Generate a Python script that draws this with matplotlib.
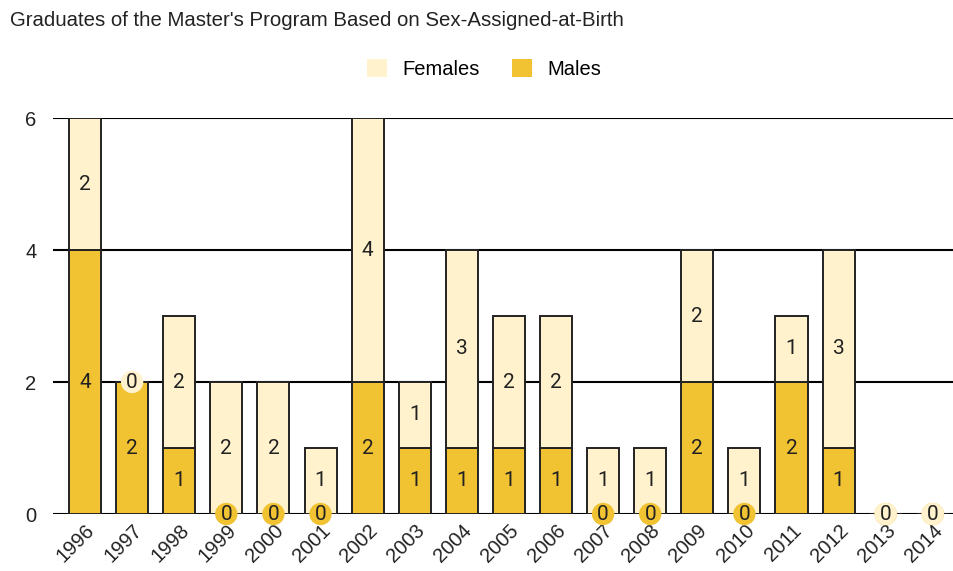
import numpy as np
import matplotlib.pyplot as plt
from matplotlib.patches import Patch

years = ['1996', '1997', '1998', '1999', '2000', '2001', '2002', '2003', '2004', '2005',
         '2006', '2007', '2008', '2009', '2010', '2011', '2012', '2013', '2014']
males = [4, 2, 1, 0, 0, 0, 2, 1, 1, 1, 1, 0, 0, 2, 0, 2, 1, 0, 0]
females = [2, 0, 2, 2, 2, 1, 4, 1, 3, 2, 2, 1, 1, 2, 1, 1, 3, 0, 0]

c_male = '#F1C232'
c_female = '#FFF2CC'

fig = plt.figure(figsize=(9.54, 5.71), dpi=100)
ax = fig.add_axes([53/954, 57/571, 1 - 53/954, 396/571])

x = np.arange(len(years))
w = 0.68
ax.bar(x, males, w, color=c_male, edgecolor='#222222', linewidth=1.4, zorder=2)
ax.bar(x, females, w, bottom=males, color=c_female, edgecolor='#222222', linewidth=1.4, zorder=2)

# etiketler
for i in range(len(years)):
    m, f = males[i], females[i]
    if m > 0:
        ax.text(x[i], m / 2, str(m), ha='center', va='center', fontsize=15,
                family='Roboto', color='#222222', zorder=4)
    else:
        ax.text(x[i], 0, '0', ha='center', va='center', fontsize=15, family='Roboto',
                color='#222222', zorder=4,
                bbox=dict(boxstyle='circle,pad=0.08', fc=c_male, ec='none'))
    if f > 0:
        ax.text(x[i], m + f / 2, str(f), ha='center', va='center', fontsize=15,
                family='Roboto', color='#222222', zorder=4)
    else:
        ax.text(x[i], m, '0', ha='center', va='center', fontsize=15, family='Roboto',
                color='#222222', zorder=5,
                bbox=dict(boxstyle='circle,pad=0.08', fc=c_female, ec='none'))

ax.set_xlim(-0.68, 18.45)
ax.set_ylim(0, 6)
ax.set_yticks([0, 2, 4, 6])
ax.set_xticks(x)
ax.set_xticklabels(years, rotation=45, ha='right', rotation_mode='anchor',
                   family='Liberation Sans', fontsize=14.5)
for lab in ax.get_yticklabels():
    lab.set_family('Liberation Sans')
    lab.set_fontsize(14.5)
ax.tick_params(axis='both', length=0, colors='#222222')
ax.tick_params(axis='y', pad=12)
ax.tick_params(axis='x', pad=5)
for s in ax.spines.values():
    s.set_visible(False)
ax.grid(axis='y', color='black', linewidth=1.5, zorder=0)
ax.axhline(0, color='#444444', linewidth=1.2, zorder=1)

fig.text(10/954, 1 - 20/571, "Graduates of the Master's Program Based on Sex-Assigned-at-Birth",
         ha='left', va='center', fontsize=14.7, family='Liberation Sans', color='#222222')

handles = [Patch(fc=c_female, ec='none'), Patch(fc=c_male, ec='none')]
fig.legend(handles, ['Females', 'Males'], loc='center', bbox_to_anchor=(484/954, 1 - 69/571),
           ncol=2, frameon=False, prop={'family': 'Liberation Sans', 'size': 14.5},
           handlelength=1.0, handleheight=1.0, columnspacing=1.6, handletextpad=0.75)

plt.savefig('out.png', dpi=100)
